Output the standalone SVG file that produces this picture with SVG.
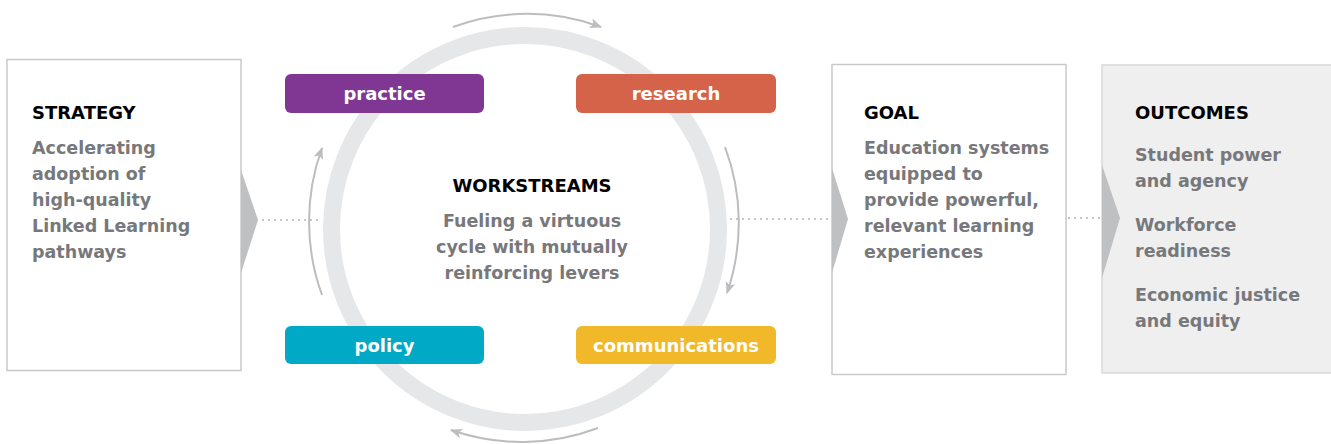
<svg xmlns="http://www.w3.org/2000/svg" width="1331" height="444" viewBox="0 0 1331 444">
<style>
.panel{fill:#fff;stroke:#c9c9c9;stroke-width:1.5}
.panel2{fill:#efefef;stroke:#d9d9d9;stroke-width:1.5}
.chev{fill:#bfc0c2}
.head{font-family:"DejaVu Sans",sans-serif;font-weight:bold;font-size:18px;fill:#000}
.body{font-family:"DejaVu Sans",sans-serif;font-weight:bold;font-size:17.5px;fill:#77787b}
.lbl{font-family:"DejaVu Sans",sans-serif;font-weight:bold;font-size:18px;fill:#fff;text-anchor:middle}
.dot{stroke:#c6c7c9;stroke-width:2;stroke-dasharray:2 4;fill:none}
.arc{stroke:#bcbdc0;stroke-width:2;fill:none;marker-end:url(#ah)}
</style>
<defs>
<marker id="ah" markerUnits="userSpaceOnUse" markerWidth="14" markerHeight="12" refX="11" refY="5" orient="auto">
<path d="M0,0 L12,5 L0,10 L3,5 z" fill="#bcbdc0"/>
</marker>
</defs>
<rect width="1331" height="444" fill="#fff"/>
<g id="connectors">
<line class="dot" x1="262" y1="220" x2="322" y2="220"/>
<line class="dot" x1="730" y1="219" x2="830" y2="219"/>
<line class="dot" x1="1068" y1="218" x2="1100" y2="218"/>
<path class="arc" d="M453 27 A215 215 0 0 1 601 27"/>
<path class="arc" d="M725 147 A215 215 0 0 1 727 293"/>
<path class="arc" d="M598 428 A215 215 0 0 1 451 430"/>
<path class="arc" d="M322 295 A215 215 0 0 1 322 148"/>
</g>
<g id="cycle">
<circle cx="525" cy="229" r="193.5" fill="none" stroke="#e6e7e8" stroke-width="17"/>
</g>
<g id="strategy">
<rect class="panel" x="7" y="59.5" width="234" height="311"/>
<polygon class="chev" points="241,170 258,220 241,273"/>
<text class="head" x="32" y="119">STRATEGY</text>
<text class="body" x="32" y="154">Accelerating</text>
<text class="body" x="32" y="180">adoption of</text>
<text class="body" x="32" y="206">high-quality</text>
<text class="body" x="32" y="232">Linked Learning</text>
<text class="body" x="32" y="258">pathways</text>
</g>
<g id="workstreams">
<text class="head" x="532" y="192" text-anchor="middle">WORKSTREAMS</text>
<text class="body" x="532" y="227" text-anchor="middle">Fueling a virtuous</text>
<text class="body" x="532" y="253" text-anchor="middle">cycle with mutually</text>
<text class="body" x="532" y="279" text-anchor="middle">reinforcing levers</text>
</g>
<g id="practice">
<rect x="285" y="74" width="199" height="39" rx="6" fill="#7f3793"/>
<text class="lbl" x="384.5" y="100">practice</text>
</g>
<g id="research">
<rect x="576" y="74" width="200" height="39" rx="6" fill="#d4634a"/>
<text class="lbl" x="676" y="100">research</text>
</g>
<g id="policy">
<rect x="285" y="326" width="199" height="38" rx="6" fill="#00a9c6"/>
<text class="lbl" x="384.5" y="351.5">policy</text>
</g>
<g id="communications">
<rect x="576" y="326" width="200" height="38" rx="6" fill="#f1b929"/>
<text class="lbl" x="676" y="351.5">communications</text>
</g>
<g id="goal">
<rect class="panel" x="832" y="64.5" width="234" height="310"/>
<polygon class="chev" points="832,168 848,219 832,273"/>
<text class="head" x="864" y="119">GOAL</text>
<text class="body" x="864" y="154">Education systems</text>
<text class="body" x="864" y="180">equipped to</text>
<text class="body" x="864" y="206">provide powerful,</text>
<text class="body" x="864" y="232">relevant learning</text>
<text class="body" x="864" y="258">experiences</text>
</g>
<g id="outcomes">
<rect class="panel2" x="1102" y="65" width="240" height="308"/>
<polygon class="chev" points="1102,165 1120,218 1102,278"/>
<text class="head" x="1135" y="119">OUTCOMES</text>
<text class="body" x="1135" y="161">Student power</text>
<text class="body" x="1135" y="187">and agency</text>
<text class="body" x="1135" y="231">Workforce</text>
<text class="body" x="1135" y="257">readiness</text>
<text class="body" x="1135" y="301">Economic justice</text>
<text class="body" x="1135" y="327">and equity</text>
</g>
</svg>
